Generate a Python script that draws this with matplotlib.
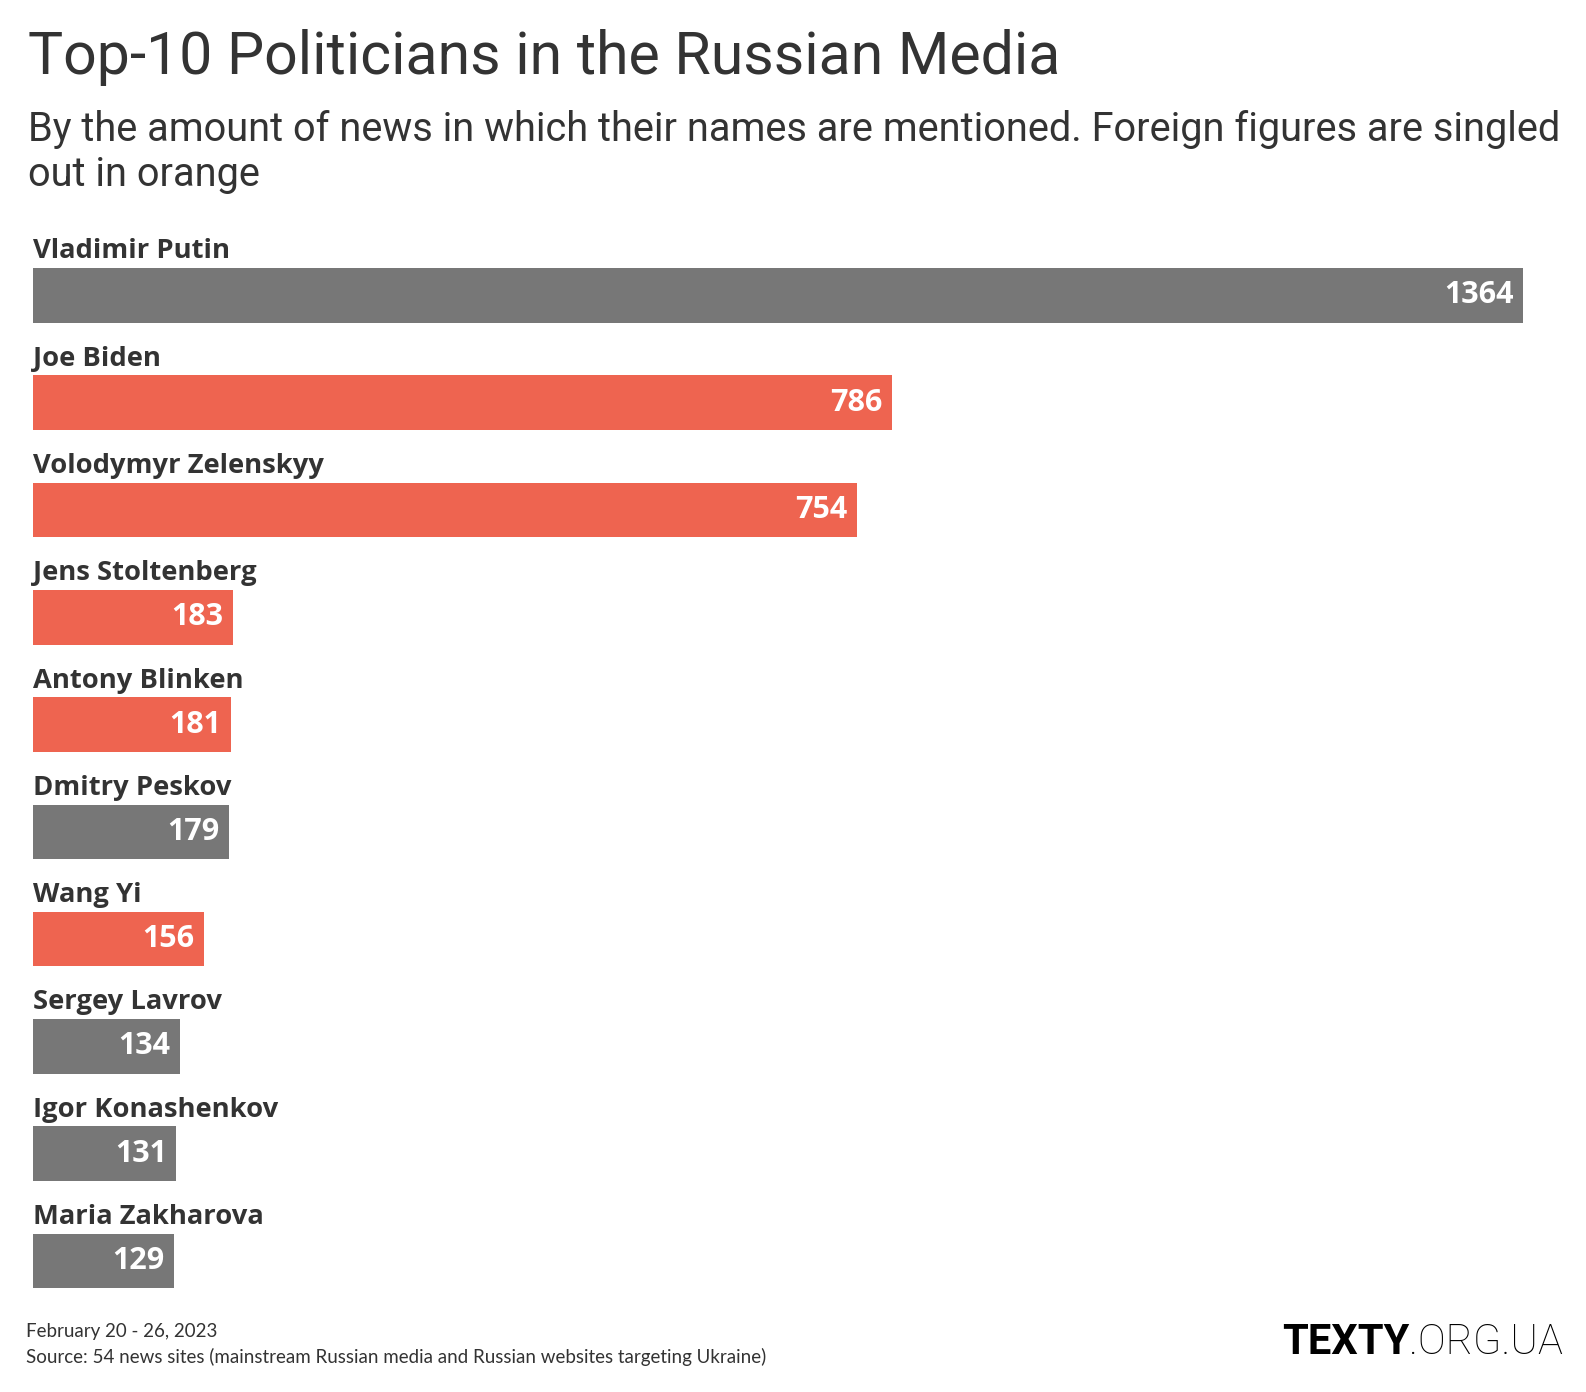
import matplotlib
matplotlib.use("Agg")
import matplotlib.pyplot as plt

names = ["Vladimir Putin", "Joe Biden", "Volodymyr Zelenskyy", "Jens Stoltenberg",
         "Antony Blinken", "Dmitry Peskov", "Wang Yi", "Sergey Lavrov",
         "Igor Konashenkov", "Maria Zakharova"]
counts = [1364, 786, 754, 183, 181, 179, 156, 134, 131, 129]
foreign = [False, True, True, True, True, False, True, False, False, False]

GRAY = "#777777"
ORANGE = "#ee6450"
DARK = "#333333"

W, H = 1586, 1392
fig = plt.figure(figsize=(W / 100, H / 100), dpi=100)
fig.patch.set_facecolor("white")

# axes placed so bar centres land where the reference has them
left_px, right_px = 33.4, 1523
top_px, bot_px = 188.2, 1314.6
ax = fig.add_axes([left_px / W, 1 - bot_px / H, (right_px - left_px) / W, (bot_px - top_px) / H])
ax.set_xlim(0, max(counts))
ax.set_ylim(9.5, -1)
ax.axis("off")

colors = [ORANGE if f else GRAY for f in foreign]
ypos = list(range(len(names)))
ax.barh(ypos, counts, height=0.51, color=colors, align="center")

for i, (n, c) in enumerate(zip(names, counts)):
    ax.text(0, i - 0.41, n, ha="left", va="center", fontsize=19.7,
            fontweight="bold", family="Open Sans", color=DARK)
    ax.annotate(str(c), xy=(c, i), xytext=(-7, 0), textcoords="offset points",
                ha="right", va="center", fontsize=22, fontweight="bold",
                family="Open Sans", color="white")

# title and subtitle
fig.text(28 / W, 1 - 58 / H, "Top-10 Politicians in the Russian Media",
         ha="left", va="center", fontsize=42.5, family="Roboto", color=DARK)
fig.text(28 / W, 1 - 152 / H,
         "By the amount of news in which their names are mentioned. Foreign figures are singled\nout in orange",
         ha="left", va="center", fontsize=28.6, family="Roboto", color=DARK,
         linespacing=1.17)

# footer
fig.text(26 / W, 1 - 1331 / H, "February 20 - 26, 2023", ha="left", va="center",
         fontsize=13.5, family="Lato", color=DARK)
fig.text(26 / W, 1 - 1357 / H,
         "Source: 54 news sites (mainstream Russian media and Russian websites targeting Ukraine)",
         ha="left", va="center", fontsize=13.5, family="Lato", color=DARK)

# logo
fig.canvas.draw()
r = fig.canvas.get_renderer()
t2 = fig.text(1563 / W, 1 - 1342 / H, ".ORG.UA", ha="right", va="center",
              fontsize=30, family="Roboto", fontweight="light", color="black")
bb = t2.get_window_extent(renderer=r)
fig.text(bb.x0 / W, 1 - 1342 / H, "TEXTY", ha="right", va="center",
         fontsize=30, family="Roboto", fontweight="bold", color="black")

fig.savefig("out.png", dpi=100, facecolor="white")
